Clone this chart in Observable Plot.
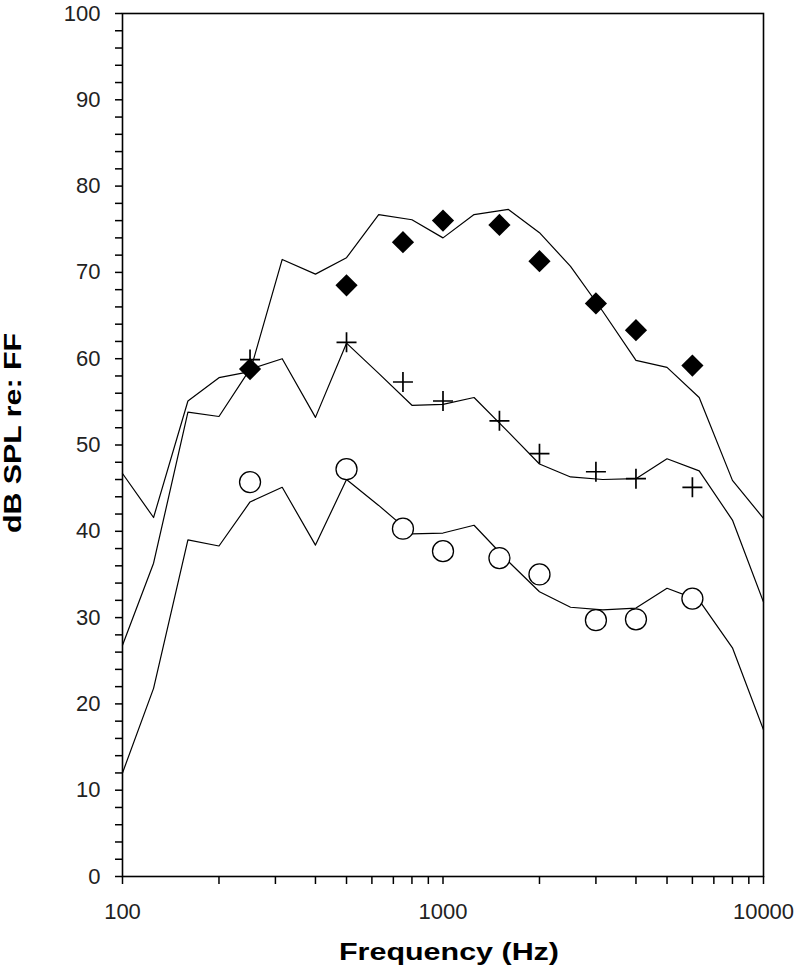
<!DOCTYPE html>
<html>
<head>
<meta charset="utf-8">
<script src="https://cdn.jsdelivr.net/npm/d3@7"></script>
<script src="https://cdn.jsdelivr.net/npm/@observablehq/plot@0.6"></script>
<style>
  html, body { margin: 0; padding: 0; background: #fff; }
  #chart svg { display: block; }
</style>
</head>
<body>
<div id="chart"></div>
<script>
// 1/3-octave band centre frequencies (Hz) for the three curves
const freqs = [100,125,160,200,250,315,400,500,630,800,1000,1250,1600,2000,2500,3150,4000,5000,6300,8000,10000];
const upperCurve  = [46.7,41.6,55.1,57.8,58.5,71.5,69.8,71.7,76.7,76.1,74.0,76.7,77.3,74.6,70.7,65.5,59.8,59.0,55.5,45.9,41.5];
const middleCurve = [26.8,36.3,53.8,53.3,58.8,60.0,53.2,61.8,58.3,54.6,54.7,55.5,51.5,47.8,46.3,46.0,46.1,48.4,47.0,41.3,31.8];
const lowerCurve  = [12.0,21.8,39.0,38.3,43.4,45.1,38.4,46.0,43.0,39.7,39.8,40.7,36.5,33.0,31.2,30.9,31.1,33.4,32.0,26.5,17.0];

// measured points
const markerFreqs = [250,500,750,1000,1500,2000,3000,4000,6000];
const diamondVals = [58.8,68.5,73.5,76.0,75.5,71.3,66.4,63.3,59.2];
const plusVals    = [59.9,61.9,57.3,55.1,52.8,49.0,46.9,46.1,45.1];
const circleVals  = [45.7,47.2,40.3,37.7,36.9,35.0,29.7,29.8,32.2];

// axis ticks / labels
const xTickValues  = [100,200,300,400,500,600,700,800,900,1000,2000,3000,4000,5000,6000,7000,8000,9000,10000];
const xLabelValues = [100,1000,10000];
const yTickValues  = d3.range(0, 101, 2);
const yLabelValues = d3.range(0, 101, 10);
const xTitle = "Frequency (Hz)";
const yTitle = "dB SPL re: FF";

const curve = (vals) => freqs.map((f, i) => ({f, v: vals[i]}));
const pts = (vals) => markerFreqs.map((f, i) => ({f, v: vals[i]}));

const plusSymbol = {
  draw(ctx, size) {
    const r = Math.sqrt(size / Math.PI);
    ctx.moveTo(-r, 0); ctx.lineTo(r, 0);
    ctx.moveTo(0, -r); ctx.lineTo(0, r);
  }
};

const chart = Plot.plot({
  width: 797,
  height: 973,
  marginLeft: 122,
  marginRight: 34,
  marginTop: 13,
  marginBottom: 97,
  style: {fontFamily: "'Liberation Sans', Arial, sans-serif", background: "#fff", color: "#000"},
  x: {type: "log", domain: [100, 10000]},
  y: {domain: [0, 100]},
  marks: [
    Plot.axisX(xTickValues, {tickSize: 8, tickFormat: () => "", label: null, strokeWidth: 1.5}),
    Plot.axisX(xLabelValues, {tickSize: 0, tickPadding: 27, tickFormat: d => String(d), label: null, fontSize: 22, fill: "#222"}),
    Plot.axisY(yTickValues, {tickSize: 7, tickFormat: () => "", label: null, strokeWidth: 1.5}),
    Plot.axisY(yLabelValues, {tickSize: 0, tickPadding: 22, tickFormat: d => String(d), label: null, fontSize: 22, fill: "#222"}),
    Plot.frame({stroke: "#000", strokeWidth: 1.6}),
    Plot.line(curve(upperCurve),  {x: "f", y: "v", stroke: "#000", strokeWidth: 1.2}),
    Plot.line(curve(middleCurve), {x: "f", y: "v", stroke: "#000", strokeWidth: 1.2}),
    Plot.line(curve(lowerCurve),  {x: "f", y: "v", stroke: "#000", strokeWidth: 1.2}),
    Plot.dot(pts(diamondVals), {x: "f", y: "v", symbol: "diamond2", r: 10, fill: "#000", stroke: "none"}),
    Plot.dot(pts(plusVals), {x: "f", y: "v", symbol: plusSymbol, r: 10, fill: "none", stroke: "#000", strokeWidth: 1.7}),
    Plot.dot(pts(circleVals), {x: "f", y: "v", symbol: "circle", r: 10.5, fill: "#fff", stroke: "#000", strokeWidth: 1.3}),
    Plot.text([xTitle], {frameAnchor: "bottom", dx: 6, dy: 76, text: d => d, fontSize: 24, fontWeight: "bold", fill: "#000", lineAnchor: "middle", textAnchor: "middle"}),
    Plot.text([yTitle], {frameAnchor: "left", dx: -109, dy: -12, rotate: -90, text: d => d, fontSize: 24, fontWeight: "bold", fill: "#000", lineAnchor: "middle", textAnchor: "middle"})
  ]
});

document.getElementById("chart").appendChild(chart);

// widen the bold titles to match the reference's wide lettering
d3.select(chart).selectAll("text").each(function() {
  const t = this.textContent;
  if (t === xTitle) d3.select(this).attr("textLength", 220).attr("lengthAdjust", "spacingAndGlyphs");
  if (t === yTitle) d3.select(this).attr("textLength", 200).attr("lengthAdjust", "spacingAndGlyphs");
});
</script>
</body>
</html>
